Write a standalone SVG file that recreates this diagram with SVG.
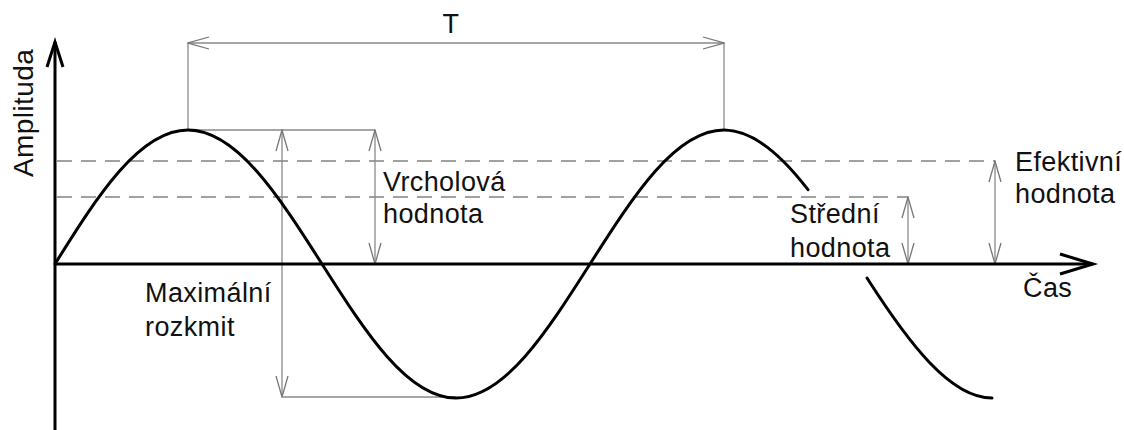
<svg xmlns="http://www.w3.org/2000/svg" width="1124" height="430" viewBox="0 0 1124 430">
<style>
.txt{font-family:"Liberation Sans",Arial,sans-serif;font-size:27px;fill:#111;letter-spacing:0.4px;}
.dim{stroke:#8a8a8a;stroke-width:1.3;fill:none;}
.dash{stroke:#444;stroke-width:1.2;fill:none;stroke-dasharray:15 9;}
.axis{stroke:#000;stroke-width:3;fill:none;}
.wave{stroke:#000;stroke-width:3;fill:none;stroke-linecap:round;}
</style>
<defs>
<marker id="ah" markerUnits="userSpaceOnUse" markerWidth="24" markerHeight="16" viewBox="-23 -8 24 16" refX="0" refY="0" orient="auto-start-reverse">
<path d="M-21,-6 L0,0 L-21,6" fill="none" stroke="#777" stroke-width="1.3"/>
</marker>
</defs>
<rect width="1124" height="430" fill="#fff"/>
<g id="guides">
<path class="dash" d="M57,161 H995"/>
<path class="dash" d="M57,197 H908"/>
</g>
<g id="connectors">
<path class="dim" d="M188,130 V43 M724,130 V43"/>
<path class="dim" d="M188,43 H724" marker-start="url(#ah)" marker-end="url(#ah)"/>
<path class="dim" d="M188,130 H375"/>
<path class="dim" d="M375,130 V264" marker-start="url(#ah)" marker-end="url(#ah)"/>
<path class="dim" d="M282,130 V397" marker-start="url(#ah)" marker-end="url(#ah)"/>
<path class="dim" d="M282,397 H456"/>
<path class="dim" d="M908,197 V264" marker-start="url(#ah)" marker-end="url(#ah)"/>
<path class="dim" d="M995,161 V264" marker-start="url(#ah)" marker-end="url(#ah)"/>
</g>
<g id="axes">
<path class="axis" d="M55,430 V42"/>
<path class="axis" d="M47,67 L55,42 L63,67"/>
<path class="axis" d="M55,264 H1093"/>
<path class="axis" d="M1060,254 L1093,264 L1060,274"/>
</g>
<g id="wave">
<path class="wave" d="M55,264 C97.7,195.4 139.5,130 188,130 C236.5,130 278.3,195.4 322,264 C365.7,332.6 407.5,398 456,398 C504.5,398 546.3,332.6 590,264 C633.7,195.4 675.5,130 724,130 C752,130 780,153.1 808,189.7"/>
<path class="wave" d="M867,278 C908.7,343.2 950.3,398 992,398"/>
</g>
<g id="labels">
<text class="txt" x="451" y="33" text-anchor="middle">T</text>
<text class="txt" transform="translate(33,177) rotate(-90)" style="font-size:28px">Amplituda</text>
<text class="txt" x="383" y="191">Vrcholová</text>
<text class="txt" x="383" y="223">hodnota</text>
<text class="txt" x="145" y="302">Maximální</text>
<text class="txt" x="145" y="336">rozkmit</text>
<text class="txt" x="790" y="223">Střední</text>
<text class="txt" x="790" y="257">hodnota</text>
<text class="txt" x="1015" y="171">Efektivní</text>
<text class="txt" x="1015" y="203">hodnota</text>
<text class="txt" x="1023" y="297">Čas</text>
</g>
</svg>
